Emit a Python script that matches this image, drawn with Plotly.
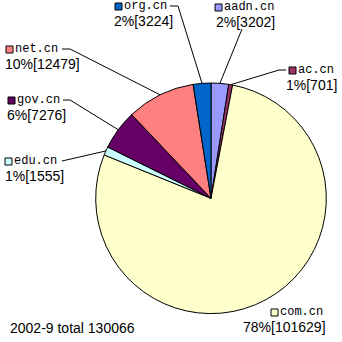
import math
import plotly.graph_objects as go

# ---- data ----
names = ["aadn.cn", "ac.cn", "com.cn", "edu.cn", "gov.cn", "net.cn", "org.cn"]
values = [3202, 701, 101629, 1555, 7276, 12479, 3224]
colors = ["#9999FF", "#993366", "#FFFFCC", "#CCFFFF", "#660066", "#FF8080", "#0066CC"]
period = "2002-9"

total = sum(values)

# ---- layout (pixels) ----
W = H = 342
CX, CY, R = 211.0, 198.3, 115.3
LINE_GAP = 15

# per label: square (x,y), line2 x, line2 anchor, leader start points
label_layout = {
    "aadn.cn": dict(sq=(215, 4), l2x=216, l2a="left", lead=[(242, 29)]),
    "ac.cn": dict(sq=(289, 67), l2x=337, l2a="right", lead=[(286, 70), (279, 70)]),
    "com.cn": dict(sq=(271, 309), l2x=326, l2a="right", lead=[]),
    "edu.cn": dict(sq=(5, 158), l2x=5, l2a="left", lead=[(62, 161)]),
    "gov.cn": dict(sq=(8, 97), l2x=7, l2a="left", lead=[(63, 100), (70, 100)]),
    "net.cn": dict(sq=(6, 46), l2x=5, l2a="left", lead=[(62, 49), (70, 49)]),
    "org.cn": dict(sq=(115, 3), l2x=114, l2a="left", lead=[(170, 6), (178, 6)]),
}


def px(x):
    return x / W


def py(y):
    return 1 - y / H


fig = go.Figure()
fig.add_trace(go.Pie(
    values=values, labels=names, sort=False, direction="clockwise", rotation=0,
    marker=dict(colors=colors, line=dict(color="black", width=1)),
    textinfo="none", hoverinfo="label+value+percent", showlegend=False,
    domain=dict(x=[px(CX - R), px(CX + R)], y=[py(CY + R), py(CY - R)]),
))

shapes = []
annotations = []
cum = 0
for name, v, c in zip(names, values, colors):
    mid = math.radians((cum + v / 2) / total * 360)
    cum += v
    L = label_layout[name]
    sx, sy = L["sq"]
    name_y = sy + 3
    shapes.append(dict(type="rect", xref="paper", yref="paper",
                       x0=px(sx), x1=px(sx + 7), y0=py(sy + 7), y1=py(sy),
                       fillcolor=c, line=dict(color="black", width=1)))
    annotations.append(dict(text=name, xref="paper", yref="paper",
                            x=px(sx + 9), y=py(name_y), xanchor="left", yanchor="middle",
                            showarrow=False, borderpad=0, borderwidth=0,
                            font=dict(family="Liberation Mono", size=12, color="black")))
    pct = round(v / total * 100)
    annotations.append(dict(text=f"{pct}%[{v}]", xref="paper", yref="paper",
                            x=px(L["l2x"]), y=py(name_y + LINE_GAP), xanchor=L["l2a"],
                            yanchor="middle", showarrow=False, borderpad=0, borderwidth=0,
                            font=dict(family="Liberation Sans", size=14, color="black")))
    if L["lead"]:
        ex = CX + R * math.sin(mid)
        ey = CY - R * math.cos(mid)
        pts = L["lead"] + [(ex, ey)]
        path = "M " + " L ".join(f"{px(x):.5f},{py(y):.5f}" for x, y in pts)
        shapes.append(dict(type="path", xref="paper", yref="paper", path=path,
                           line=dict(color="black", width=1)))

annotations.append(dict(text=f"{period} total {total}", xref="paper", yref="paper",
                        x=px(10), y=py(328), xanchor="left", yanchor="middle",
                        showarrow=False, borderpad=0, borderwidth=0,
                        font=dict(family="Liberation Sans", size=14, color="black")))

fig.update_layout(
    width=W, height=H, margin=dict(l=0, r=0, t=0, b=0),
    paper_bgcolor="white", plot_bgcolor="white",
    shapes=shapes, annotations=annotations,
)

fig.write_html("out.html")
